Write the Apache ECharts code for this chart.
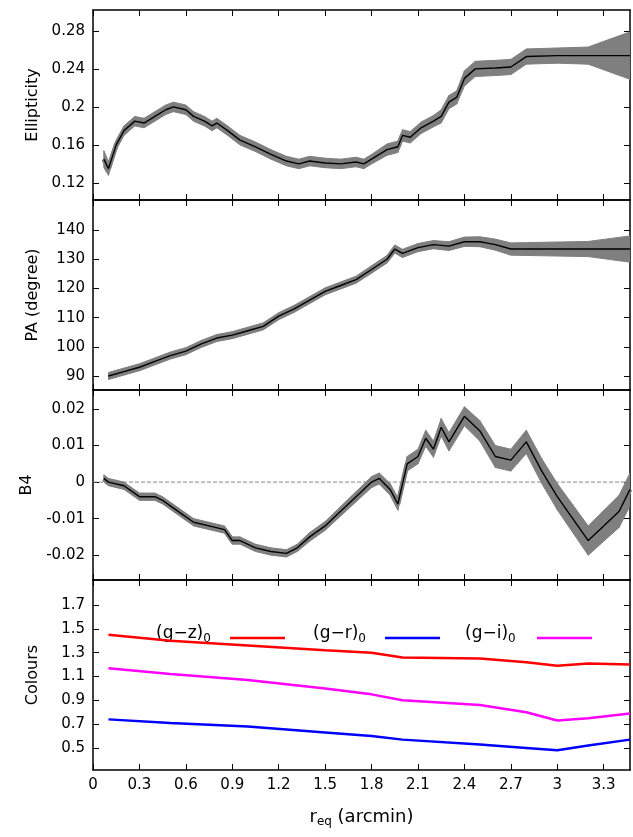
<!DOCTYPE html><html><head><meta charset="utf-8"><script src="https://cdn.jsdelivr.net/npm/echarts@6/dist/echarts.min.js"></script></head><body style="margin:0"><div id="c" style="width:633px;height:837px"></div><script>
const xTicks=[0,0.3,0.6,0.9,1.2,1.5,1.8,2.1,2.4,2.7,3,3.3];
const xTickLabels=['0','0.3','0.6','0.9','1.2','1.5','1.8','2.1','2.4','2.7','3','3.3'];
const ellR=[0.07,0.1,0.15,0.2,0.27,0.33,0.4,0.47,0.52,0.6,0.65,0.72,0.77,0.8,0.87,0.95,1.05,1.15,1.25,1.33,1.4,1.5,1.6,1.7,1.75,1.8,1.9,1.97,2.0,2.05,2.12,2.2,2.25,2.3,2.35,2.4,2.47,2.6,2.7,2.8,3.0,3.2,3.47];
const ellV=[0.145,0.135,0.16,0.175,0.185,0.183,0.19,0.197,0.2,0.197,0.19,0.185,0.18,0.183,0.175,0.165,0.158,0.15,0.143,0.14,0.143,0.141,0.14,0.142,0.14,0.145,0.155,0.158,0.17,0.168,0.178,0.185,0.19,0.205,0.21,0.23,0.24,0.241,0.242,0.253,0.254,0.254,0.254];
const ellE=[0.009,0.007,0.005,0.005,0.005,0.005,0.005,0.005,0.005,0.005,0.005,0.005,0.005,0.005,0.005,0.005,0.005,0.005,0.005,0.005,0.005,0.005,0.005,0.005,0.005,0.005,0.006,0.006,0.006,0.006,0.006,0.006,0.007,0.007,0.007,0.008,0.008,0.008,0.008,0.008,0.008,0.009,0.025];
const paR=[0.1,0.2,0.3,0.4,0.5,0.6,0.7,0.8,0.9,1.0,1.1,1.2,1.3,1.4,1.5,1.6,1.7,1.8,1.9,1.95,2.0,2.1,2.2,2.3,2.4,2.5,2.6,2.7,2.9,3.2,3.47];
const paV=[90,91.5,93,95,97,98.5,101,103,104,105.5,107,110.5,113,116,119,121,123,126.5,130,133.5,132,134,135,134.5,136,136,135,133.5,133.5,133.5,133.5];
const paE=[1.2,1.2,1.2,1.2,1.2,1.2,1.2,1.2,1.2,1.2,1.2,1.2,1.2,1.2,1.2,1.2,1.2,1.3,1.3,1.4,1.4,1.4,1.4,1.5,1.6,1.7,1.9,2.1,2.3,2.6,4.5];
const b4R=[0.07,0.1,0.2,0.3,0.4,0.45,0.55,0.65,0.75,0.85,0.9,0.95,1.05,1.15,1.25,1.32,1.4,1.5,1.6,1.7,1.8,1.85,1.92,1.97,2.03,2.1,2.15,2.2,2.25,2.3,2.4,2.5,2.6,2.7,2.8,2.9,3.0,3.1,3.2,3.3,3.4,3.47];
const b4V=[0.001,0,-0.001,-0.004,-0.004,-0.005,-0.008,-0.011,-0.012,-0.013,-0.016,-0.016,-0.018,-0.019,-0.0195,-0.018,-0.015,-0.012,-0.008,-0.004,0,0.001,-0.002,-0.006,0.005,0.007,0.012,0.009,0.015,0.011,0.018,0.014,0.007,0.006,0.011,0.003,-0.004,-0.01,-0.016,-0.012,-0.008,-0.002];
const b4E=[0.001,0.001,0.001,0.001,0.001,0.001,0.001,0.001,0.001,0.001,0.001,0.001,0.001,0.001,0.001,0.001,0.0012,0.0012,0.0013,0.0014,0.0015,0.0015,0.0016,0.0017,0.002,0.002,0.0022,0.0022,0.0024,0.0025,0.0026,0.0028,0.003,0.003,0.0032,0.0034,0.0036,0.0038,0.004,0.0042,0.0044,0.0045];
const colR=[0.1,0.5,1.0,1.5,1.8,2.0,2.5,2.8,3.0,3.2,3.47];
const gz=[1.45,1.4,1.36,1.32,1.3,1.26,1.25,1.22,1.19,1.21,1.2];
const gi=[1.17,1.12,1.07,1.0,0.95,0.9,0.86,0.8,0.73,0.75,0.79];
const gr=[0.74,0.71,0.68,0.63,0.6,0.57,0.53,0.5,0.48,0.52,0.57];
const p1T=[0.12,0.16,0.2,0.24,0.28],p2T=[90,100,110,120,130,140],p3T=[-0.02,-0.01,0,0.01,0.02],p4T=[0.5,0.7,0.9,1.1,1.3,1.5,1.7];
const p1L=['0.12','0.16','0.2','0.24','0.28'],p3L=['-0.02','-0.01','0','0.01','0.02'];
const tops=[10,200,390,580],H=190;
const grids=tops.map(t=>({left:93,right:3,top:t,height:H}));
const F='DejaVu Sans';
function xa(i,pos,labels){return {type:'value',gridIndex:i,position:pos,min:0,max:3.47,
 axisLine:{onZero:false,lineStyle:{color:'#000',width:1.5}},splitLine:{show:false},
 axisTick:{inside:true,length:6,customValues:xTicks,lineStyle:{color:'#000'}},
 axisLabel:{show:labels,customValues:xTicks,formatter:v=>xTickLabels[xTicks.findIndex(t=>Math.abs(t-v)<1e-6)]||'',color:'#000',fontSize:15,fontFamily:F,margin:8},
 name:labels?'{a|r}{b|eq}{a| (arcmin)}':'',nameLocation:'middle',nameGap:36,nameTextStyle:{rich:{a:{fontSize:18,fontFamily:F,color:'#000'},b:{fontSize:12,fontFamily:F,color:'#000',padding:[10,0,0,0]}}}};}
function ya(i,pos,min,max,ticks,fmt,name){return {type:'value',gridIndex:i,position:pos,min,max,
 axisLine:{onZero:false,lineStyle:{color:'#000',width:1.5}},splitLine:{show:false},
 axisTick:{inside:true,length:6,customValues:ticks,lineStyle:{color:'#000'}},
 axisLabel:{show:pos==='left',customValues:ticks,formatter:fmt,color:'#000',fontSize:15,fontFamily:F},
 name:pos==='left'?name:'',nameLocation:'middle',nameGap:52,nameTextStyle:{fontSize:16,fontFamily:F,color:'#000'}};}
const xAxis=[],yAxis=[];
for(let i=0;i<4;i++){xAxis.push(xa(i,'bottom',i===3));xAxis.push(xa(i,'top',false));}
const fmt1=v=>p1L[p1T.findIndex(t=>Math.abs(t-v)<1e-6)]||'',fmt3=v=>p3L[p3T.findIndex(t=>Math.abs(t-v)<1e-6)]||'';
const ys=[[0.102,0.302,p1T,fmt1,'Ellipticity'],[85.2,150.3,p2T,v=>String(v),'PA (degree)'],[-0.0268,0.0252,p3T,fmt3,'B4'],[0.315,1.91,p4T,v=>v.toFixed(1),'Colours']];
ys.forEach((y,i)=>{yAxis.push(ya(i,'left',...y));yAxis.push(ya(i,'right',...y));});
const series=[];
function band(i,R,V,E){
 const d=R.map((r,k)=>[r,V[k]-E[k],V[k]+E[k]]);
 series.push({type:'custom',xAxisIndex:2*i,yAxisIndex:2*i,data:d,clip:true,z:1,
  renderItem:(p,api)=>{const k=p.dataIndex;if(k>=d.length-1)return null;
   const a=d[k],b=d[k+1];
   const pts=[api.coord([a[0],a[1]]),api.coord([b[0],b[1]]),api.coord([b[0],b[2]]),api.coord([a[0],a[2]])];
   return {type:'polygon',shape:{points:pts},style:{fill:'#7f7f7f',stroke:'#7f7f7f',lineWidth:1}};}});
 series.push({type:'line',xAxisIndex:2*i,yAxisIndex:2*i,symbol:'none',lineStyle:{color:'#7f7f7f',width:5},data:R.map((r,k)=>[r,V[k]]),z:2});
 series.push({type:'line',xAxisIndex:2*i,yAxisIndex:2*i,symbol:'none',lineStyle:{color:'#000',width:1.4},data:R.map((r,k)=>[r,V[k]]),z:3});
}
band(0,ellR,ellV,ellE);band(1,paR,paV,paE);band(2,b4R,b4V,b4E);
series.push({type:'line',xAxisIndex:4,yAxisIndex:4,symbol:'none',data:[[0,0],[3.47,0]],lineStyle:{color:'#888',type:'dashed',width:1},z:0});
[[gz,'#ff0000'],[gr,'#0000ff'],[gi,'#ff00ff']].forEach(([d,c])=>series.push({type:'line',xAxisIndex:6,yAxisIndex:6,symbol:'none',lineStyle:{color:c,width:2.5},data:colR.map((r,k)=>[r,d[k]])}));
const rich={a:{fontSize:17,fontFamily:F,color:'#000'},s:{fontSize:12,fontFamily:F,color:'#000',padding:[10,0,0,0]}};
const leg=[['(g\u2212z)',156,230,'#ff0000'],['(g\u2212r)',313,385,'#0000ff'],['(g\u2212i)',465,537,'#ff00ff']];
const graphic=[];
leg.forEach(([t,x,lx,c])=>{graphic.push({type:'text',left:x,top:625,style:{text:'{a|'+t+'}{s|0}',rich}});
 graphic.push({type:'line',shape:{x1:lx,y1:638,x2:lx+55,y2:638},style:{stroke:c,lineWidth:2.5}});});
echarts.init(document.getElementById('c')).setOption({animation:false,grid:grids,xAxis,yAxis,series,graphic});
</script></body></html>
